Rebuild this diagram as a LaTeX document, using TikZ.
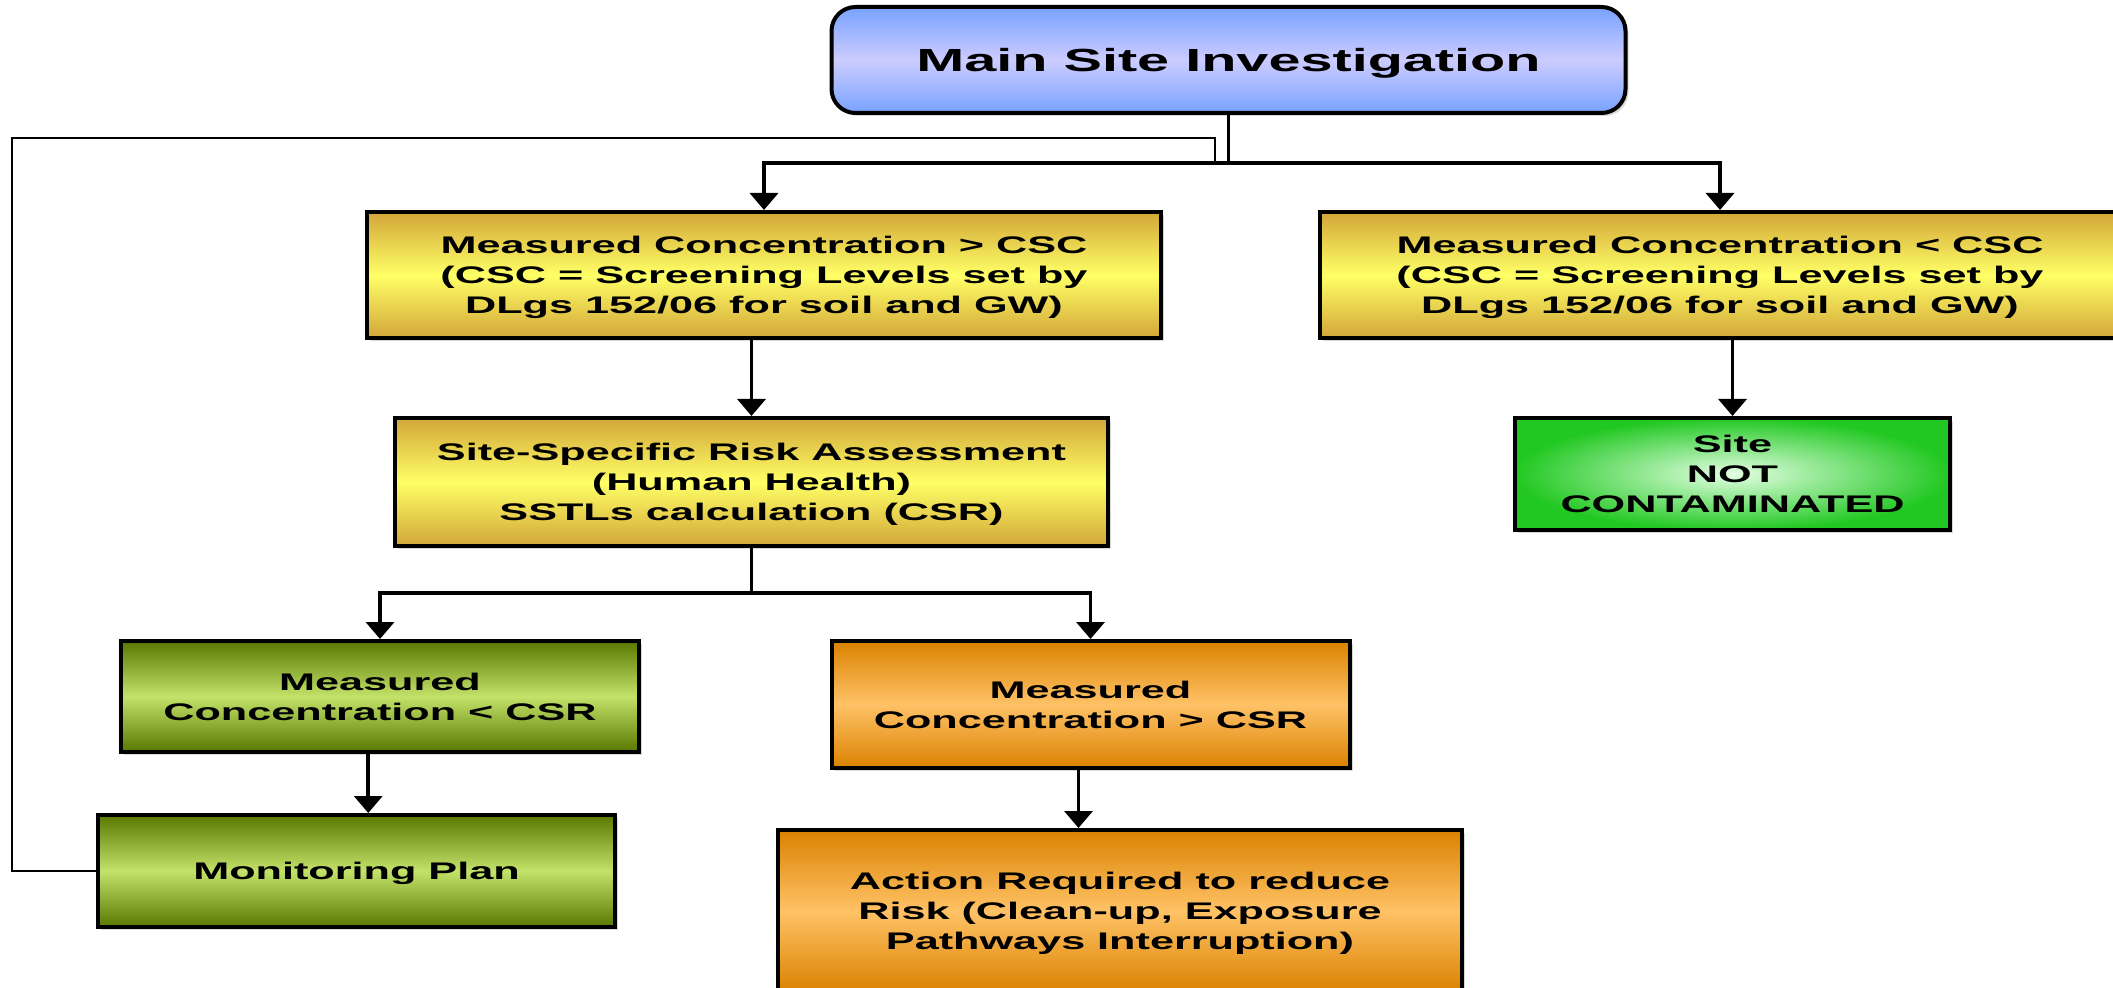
\documentclass[tikz,border=0pt]{standalone}
\usepackage{fontspec}
\newfontfamily\boxFont[FakeStretch=1.8]{Liberation Sans}
\usetikzlibrary{arrows.meta,shadows,calc}
\newcommand\boxLineWidth{2pt}
\newcommand\arrowColor{black}
\newcommand\arrowLineWidth{1.8pt}
\newcommand\feedbackLineWidth{1.2pt}
\definecolor{blueEdge}{HTML}{78A2FF}
\definecolor{blueMid}{HTML}{CCCCFF}
\definecolor{yellowEdge}{HTML}{D2A638}
\definecolor{yellowMid}{HTML}{FFFF66}
\definecolor{oliveEdge}{HTML}{587800}
\definecolor{oliveMid}{HTML}{C2E26A}
\definecolor{orangeEdge}{HTML}{DA8200}
\definecolor{orangeMid}{HTML}{FFC266}
\definecolor{greenEdge}{HTML}{22C822}
\definecolor{greenMid}{HTML}{E4FFE4}

\tikzset{
    flowBox/.style={draw=black, line width=\boxLineWidth, align=center, inner sep=0pt,
        font=\boxFont\bfseries\fontsize{12}{15}\selectfont, text depth=-1.5pt,
        drop shadow={shadow xshift=1.5pt, shadow yshift=-1.5pt, opacity=.3}},
    blueBox/.style={flowBox, rounded corners=12pt, top color=blueEdge, bottom color=blueEdge, middle color=blueMid,
        font=\boxFont\bfseries\fontsize{16}{19}\selectfont},
    yellowBox/.style={flowBox, top color=yellowEdge, bottom color=yellowEdge, middle color=yellowMid},
    oliveBox/.style={flowBox, top color=oliveEdge, bottom color=oliveEdge, middle color=oliveMid},
    orangeBox/.style={flowBox, top color=orangeEdge, bottom color=orangeEdge, middle color=orangeMid},
    greenBox/.style={flowBox, inner color=greenMid, outer color=greenEdge},
    plainLine/.style={draw=\arrowColor, line width=\arrowLineWidth},
    arrowLine/.style={plainLine, -{Triangle[width=14pt,length=8.5pt]}},
    feedbackLine/.style={draw=\arrowColor, line width=\feedbackLineWidth}
}

\begin{document}
\begin{tikzpicture}[x=0.5pt, y=-0.5pt]

    \useasboundingbox (0,0) rectangle (2113,988);

%   boxes
    \node [blueBox, minimum width=397pt, minimum height=53pt] (Step_Main) at (1228.5,60) {Main Site Investigation};

    \node [yellowBox, minimum width=397pt, minimum height=63pt] (Step_CSC_Above) at (764,275)
        {Measured Concentration > CSC\\(CSC = Screening Levels set by\\DLgs 152/06 for soil and GW)};
    \node [yellowBox, minimum width=400pt, minimum height=63pt] (Step_CSC_Below) at (1720,275)
        {Measured Concentration < CSC\\(CSC = Screening Levels set by\\DLgs 152/06 for soil and GW)};

    \node [yellowBox, minimum width=356.5pt, minimum height=64pt] (Step_Risk) at (751.5,482)
        {Site-Specific Risk Assessment\\(Human Health)\\SSTLs calculation (CSR)};
    \node [greenBox, minimum width=217.5pt, minimum height=56pt] (Step_Clean) at (1732.5,474)
        {Site\\NOT\\CONTAMINATED};

    \node [oliveBox, minimum width=259pt, minimum height=55.5pt] (Step_CSR_Below) at (380,696.5)
        {Measured\\Concentration < CSR};
    \node [orangeBox, minimum width=259pt, minimum height=63.5pt] (Step_CSR_Above) at (1090.5,704.5)
        {Measured\\Concentration > CSR};

    \node [oliveBox, minimum width=258.5pt, minimum height=56pt] (Step_Monitoring) at (356.5,871) {Monitoring Plan};
    \node [orangeBox, minimum width=342pt, minimum height=81pt] (Step_Action) at (1120,911)
        {Action Required to reduce\\Risk (Clean-up, Exposure\\Pathways Interruption)};

%   helper points
    \coordinate (Bus_Top) at (1228.5,163);
    \coordinate (Bus_Low) at (751.5,593);
    \coordinate (Feedback_Corner) at (12,138);
    \coordinate (Feedback_End) at (1215,165);
    \coordinate (Below_To_Plan) at ($(Step_CSR_Below.south)!.5!(Step_Monitoring.north)$);
    \coordinate (Above_To_Action) at ([xshift=-6pt]Step_CSR_Above.south);

%   connectors
    \draw [plainLine] (Step_Main.south) -- (Step_Main.south |- Bus_Top);
    \draw [arrowLine] (Step_Main.south |- Bus_Top) -| (Step_CSC_Above.north);
    \draw [arrowLine] (Step_Main.south |- Bus_Top) -| (Step_CSC_Below.north);

    \draw [arrowLine] (Step_CSC_Above.south -| Step_Risk.north) -- (Step_Risk.north);
    \draw [arrowLine] (Step_CSC_Below.south -| Step_Clean.north) -- (Step_Clean.north);

    \draw [plainLine] (Step_Risk.south) -- (Bus_Low);
    \draw [arrowLine] (Bus_Low) -| (Step_CSR_Below.north);
    \draw [arrowLine] (Bus_Low) -| (Step_CSR_Above.north);

    \draw [arrowLine] (Step_CSR_Below.south -| Below_To_Plan) -- (Step_Monitoring.north -| Below_To_Plan);
    \draw [arrowLine] (Above_To_Action) -- (Above_To_Action |- Step_Action.north);

%   back to the investigation
    \draw [feedbackLine] (Step_Monitoring.west) -| (Feedback_Corner) -| (Feedback_End);

\end{tikzpicture}
\end{document}
